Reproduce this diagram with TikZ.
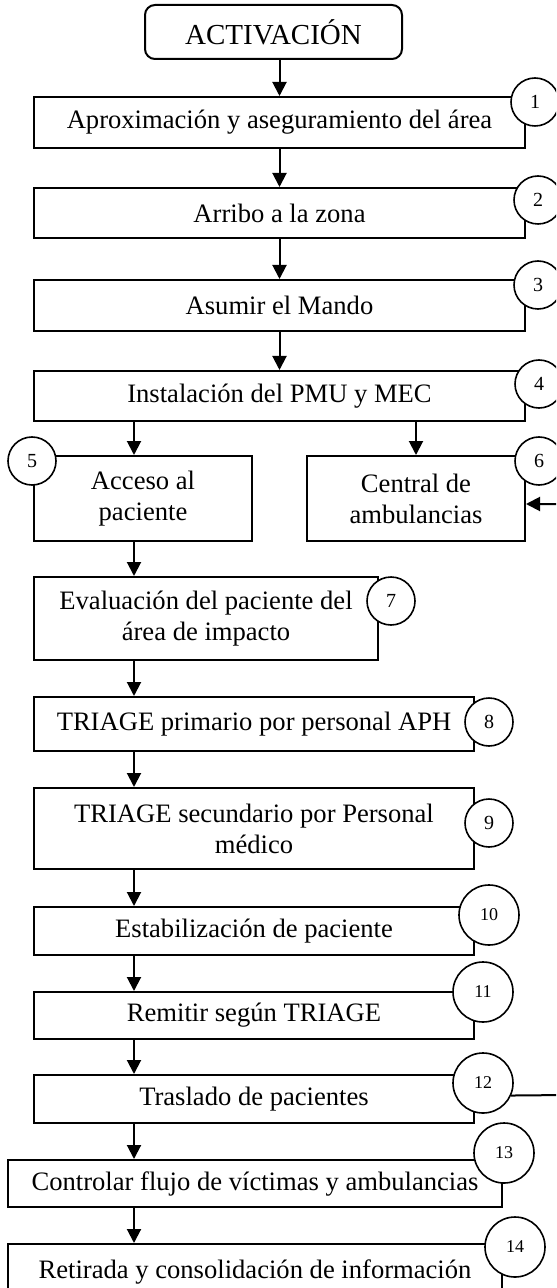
\documentclass[tikz,border=0pt]{standalone}
\usepackage{fontspec}
\setmainfont{Liberation Serif}
\usetikzlibrary{arrows.meta}

\tikzset{
  paso/.style={draw, line width=1pt, fill=white, inner sep=2pt, align=center,
    font=\fontsize{13.3}{15.5}\selectfont},
  num/.style={draw, circle, line width=0.8pt, fill=white, minimum size=24pt,
    inner sep=0pt, font=\fontsize{10}{12}\selectfont},
  numg/.style={num, minimum size=30pt, font=\fontsize{9}{11}\selectfont},
  flecha/.style={line width=1pt, -{Triangle[length=7pt,width=7pt]}},
}

\begin{document}
\begin{tikzpicture}[x=0.5pt,y=-0.5pt]
  \useasboundingbox (0,0) rectangle (556,1288);
  \clip (0,0) rectangle (556,1288);

  % pasos
  \node [paso, rounded corners=5pt, minimum width=128.5pt, minimum height=27pt,
    font=\fontsize{14.5}{17}\selectfont] (act) at (273.5,32) {ACTIVACIÓN};
  \node [paso, minimum width=245.5pt, minimum height=25.5pt] (b1) at (279.5,122.5)
    {Aproximación y aseguramiento del área};
  \node [paso, minimum width=245.5pt, minimum height=25pt] (b2) at (279.5,213)
    {Arribo a la zona};
  \node [paso, minimum width=245.5pt, minimum height=25.5pt] (b3) at (279.5,305.5)
    {Asumir el Mando};
  \node [paso, minimum width=245.5pt, minimum height=25pt] (b4) at (279.5,396)
    {Instalación del PMU y MEC};
  \node [paso, minimum width=109pt, minimum height=42.5pt] (b5) at (143,498.5)
    {Acceso al\\paciente};
  \node [paso, minimum width=109pt, minimum height=42.5pt] (b6) at (416,498.5)
    {Central de\\ambulancias};
  \node [paso, minimum width=172pt, minimum height=41.5pt] (b7) at (206,618.5)
    {Evaluación del paciente del\\área de impacto};
  \node [paso, minimum width=220pt, minimum height=27pt] (b8) at (254,724)
    {TRIAGE primario por personal APH};
  \node [paso, minimum width=220pt, minimum height=40.5pt] (b9) at (254,828.5)
    {TRIAGE secundario por Personal\\médico};
  \node [paso, minimum width=220pt, minimum height=24pt] (b10) at (254,931)
    {Estabilización de paciente};
  \node [paso, minimum width=220pt, minimum height=23.5pt] (b11) at (254,1015.5)
    {Remitir según TRIAGE};
  \node [paso, minimum width=220pt, minimum height=24pt] (b12) at (254,1099)
    {Traslado de pacientes};
  \node [paso, minimum width=247pt, minimum height=23.5pt] (b13) at (255,1183.5)
    {Controlar flujo de víctimas y ambulancias};
  \node [paso, minimum width=247pt, minimum height=28pt] (b14) at (255,1272)
    {Retirada y consolidación de información};

  % flechas
  \coordinate (eje) at (134,0);
  \draw [flecha] (act.south -| b1.north) -- (b1.north);
  \draw [flecha] (b1) -- (b2);
  \draw [flecha] (b2) -- (b3);
  \draw [flecha] (b3) -- (b4);
  \draw [flecha] (b4.south -| eje) -- (b5.north -| eje);
  \draw [flecha] (b4.south -| b6.north) -- (b6.north);
  \draw [flecha] (b5.south -| eje) -- (b7.north -| eje);
  \draw [flecha] (b7.south -| eje) -- (b8.north -| eje);
  \draw [flecha] (b8.south -| eje) -- (b9.north -| eje);
  \draw [flecha] (b9.south -| eje) -- (b10.north -| eje);
  \draw [flecha] (b10.south -| eje) -- (b11.north -| eje);
  \draw [flecha] (b11.south -| eje) -- (b12.north -| eje);
  \draw [flecha] (b12.south -| eje) -- (b13.north -| eje);
  \draw [flecha] (b13.south -| eje) -- (b14.north -| eje);

  % numeros
  \node [num] (c1) at (535,102) {1};
  \node [num] (c2) at (538,200) {2};
  \node [num] (c3) at (538,285) {3};
  \node [num] (c4) at (539,384) {4};
  \node [num] (c5) at (32,461) {5};
  \node [num] (c6) at (539,461) {6};
  \node [num] (c7) at (391,601) {7};
  \node [num] (c8) at (489,722) {8};
  \node [num] (c9) at (489,823) {9};
  \node [numg] (c10) at (489,915) {10};
  \node [numg] (c11) at (483,992) {11};
  \node [numg] (c12) at (483,1083) {12};
  \node [numg] (c13) at (504,1153) {13};
  \node [numg] (c14) at (515,1247) {14};

  % retorno a la central
  \draw [flecha] (c12.-24) -- (566,1095) |- ([yshift=-2.75pt]b6.east);
\end{tikzpicture}
\end{document}
